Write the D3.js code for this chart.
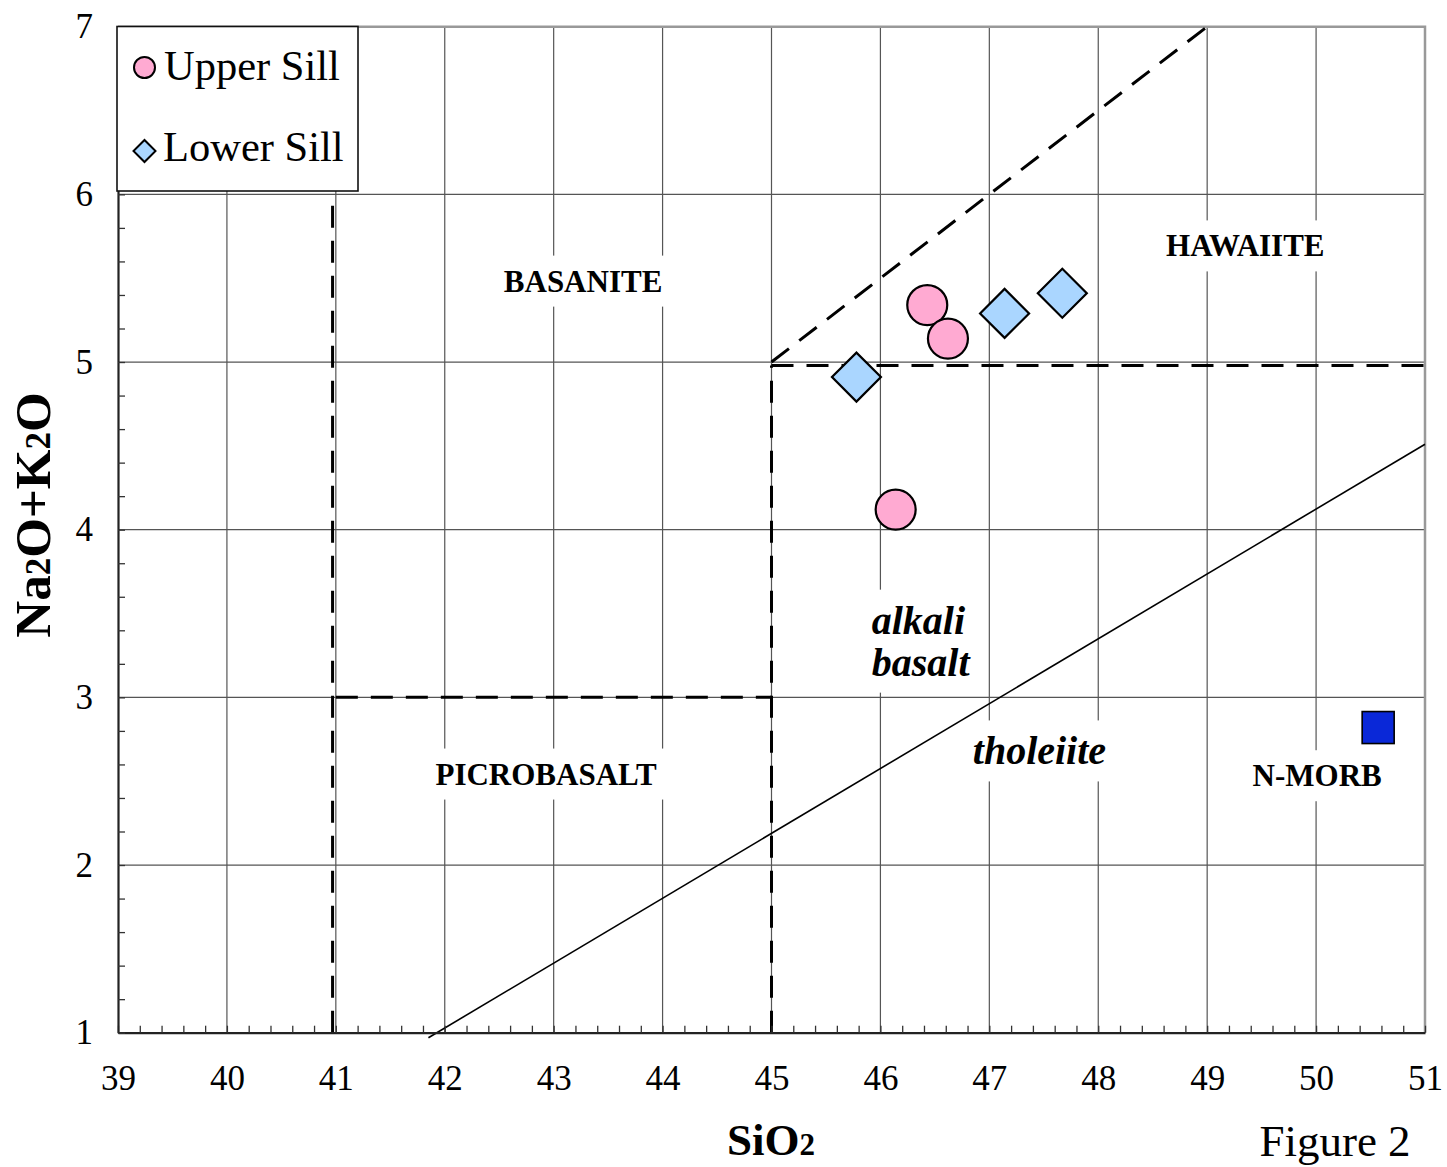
<!DOCTYPE html>
<html>
<head>
<meta charset="utf-8">
<script src="https://cdn.jsdelivr.net/npm/d3@7"></script>
<style>
  html, body { margin: 0; padding: 0; background: #fff; }
  svg { display: block; }
  text { font-family: "Liberation Serif", "Times New Roman", Times, serif; fill: #000; }
</style>
</head>
<body>
<svg id="chart" width="1447" height="1167"></svg>
<script>
// Total alkali vs silica: basalt fields
const xTicks = [39, 40, 41, 42, 43, 44, 45, 46, 47, 48, 49, 50, 51];
const yTicks = [1, 2, 3, 4, 5, 6, 7];

const upperSillSiO2 = [46.43, 46.62, 46.14];
const upperSillAlk  = [5.34, 5.14, 4.12];
const lowerSillSiO2 = [45.78, 47.14, 47.67];
const lowerSillAlk  = [4.91, 5.29, 5.41];
const nmorbSiO2 = [50.57];
const nmorbAlk  = [2.82];

// field boundaries (dashed) and the alkaline / tholeiitic divide (solid)
const dashedBoundaries = [
  [[40.97, 1], [40.97, 6]],
  [[41, 3], [45, 3]],
  [[45, 1], [45, 4.98]],
  [[45, 4.98], [51, 4.98]],
  [[45, 5], [49, 7]]
];
const alkalineDivide = [[41.85, 0.97], [51, 4.51]];

const fieldNames = ["BASANITE", "PICROBASALT", "HAWAIITE", "N-MORB"];
const fieldPos = [[43.27, 5.42], [42.93, 2.48], [49.35, 5.63], [50.01, 2.47]];

const svg = d3.select("#chart");
const L = 118, R = 1425, T = 26.7, B = 1032.7;
const x = d3.scaleLinear().domain([39, 51]).range([L, R]);
const y = d3.scaleLinear().domain([1, 7]).range([B, T]);

// grid
const grid = svg.append("g").attr("stroke", "#555").attr("stroke-width", 1.2);
grid.selectAll("line.gx").data(xTicks.slice(1, -1)).join("line")
  .attr("x1", d => x(d)).attr("x2", d => x(d)).attr("y1", T).attr("y2", B);
grid.selectAll("line.gy").data(yTicks.slice(1, -1)).join("line")
  .attr("x1", L).attr("x2", R).attr("y1", d => y(d)).attr("y2", d => y(d));

// top and right frame
svg.append("path")
  .attr("d", `M${L},${T}H${R}V${B}`)
  .attr("fill", "none").attr("stroke", "#999").attr("stroke-width", 2.5);

// field labels with white backing
const labelLayer = svg.append("g");
function backed(textSel, pad) {
  const bb = textSel.node().getBBox();
  labelLayer.insert("rect", "text")
    .attr("x", bb.x - pad).attr("y", bb.y - pad)
    .attr("width", bb.width + 2 * pad).attr("height", bb.height + 2 * pad)
    .attr("fill", "#fff");
}
fieldNames.forEach((name, i) => {
  const t = labelLayer.append("text")
    .attr("x", x(fieldPos[i][0])).attr("y", y(fieldPos[i][1]))
    .attr("text-anchor", "middle")
    .attr("font-size", 31).attr("font-weight", "bold")
    .text(name);
  backed(t, 8);
});
const abX = x(45.92);
const ab = labelLayer.append("text")
  .attr("x", abX).attr("y", y(3.38))
  .attr("font-size", 40).attr("font-weight", "bold").attr("font-style", "italic");
ab.append("tspan").attr("x", abX).text("alkali");
ab.append("tspan").attr("x", abX).attr("dy", 42).text("basalt");
backed(ab, 8);
const th = labelLayer.append("text")
  .attr("x", x(47.46)).attr("y", y(2.6))
  .attr("text-anchor", "middle")
  .attr("font-size", 40).attr("font-weight", "bold").attr("font-style", "italic")
  .text("tholeiite");
backed(th, 8);

// boundaries
const line = d3.line().x(d => x(d[0])).y(d => y(d[1]));
svg.append("g").selectAll("path").data(dashedBoundaries).join("path")
  .attr("d", line).attr("fill", "none").attr("stroke", "#000")
  .attr("stroke-width", 3).attr("stroke-dasharray", "22,13");
svg.append("path").attr("d", line(alkalineDivide))
  .attr("fill", "none").attr("stroke", "#000").attr("stroke-width", 1.6);

// axes
const minor = d3.range(39, 51.001, 0.2).map(v => +v.toFixed(1));
const minorY = d3.range(1, 7.001, 0.2).map(v => +v.toFixed(1));

const xAxis = svg.append("g").attr("transform", `translate(0,${B})`)
  .call(d3.axisBottom(x).tickValues(xTicks).tickSize(0).tickPadding(32).tickFormat(d3.format("d")));
svg.append("g").attr("transform", `translate(0,${B})`)
  .call(d3.axisBottom(x).tickValues(minor).tickSizeInner(-7).tickSizeOuter(0).tickFormat(""))
  .call(g => g.select(".domain").attr("stroke", "#222").attr("stroke-width", 2.2))
  .call(g => g.selectAll(".tick line").attr("stroke", "#333").attr("stroke-width", 1.3));
xAxis.select(".domain").remove();
xAxis.selectAll("text").attr("font-size", 35).attr("fill", "#000")
  .attr("font-family", "'Liberation Serif', 'Times New Roman', serif");

const yAxis = svg.append("g").attr("transform", `translate(${L},0)`)
  .call(d3.axisLeft(y).tickValues(yTicks).tickSize(0).tickPadding(25).tickFormat(d3.format("d")));
svg.append("g").attr("transform", `translate(${L},0)`)
  .call(d3.axisLeft(y).tickValues(minorY).tickSizeInner(-7).tickSizeOuter(0).tickFormat(""))
  .call(g => g.select(".domain").attr("stroke", "#222").attr("stroke-width", 2.2))
  .call(g => g.selectAll(".tick line").attr("stroke", "#333").attr("stroke-width", 1.3));
yAxis.select(".domain").remove();
yAxis.selectAll("text").attr("font-size", 35).attr("fill", "#000")
  .attr("font-family", "'Liberation Serif', 'Times New Roman', serif");

// samples
const upper = d3.zip(upperSillSiO2, upperSillAlk);
const lower = d3.zip(lowerSillSiO2, lowerSillAlk);
const morb = d3.zip(nmorbSiO2, nmorbAlk);

svg.append("g").selectAll("circle").data(upper).join("circle")
  .attr("cx", d => x(d[0])).attr("cy", d => y(d[1])).attr("r", 20)
  .attr("fill", "#ffaad2").attr("stroke", "#000").attr("stroke-width", 2.2);
const diamond = d3.symbol().type(d3.symbolSquare).size(2 * 24.5 * 24.5);
svg.append("g").selectAll("path").data(lower).join("path")
  .attr("d", diamond)
  .attr("transform", d => `translate(${x(d[0])},${y(d[1])}) rotate(45)`)
  .attr("fill", "#aad6ff").attr("stroke", "#000").attr("stroke-width", 2.2);
svg.append("g").selectAll("rect").data(morb).join("rect")
  .attr("x", d => x(d[0]) - 16).attr("y", d => y(d[1]) - 16)
  .attr("width", 32).attr("height", 32)
  .attr("fill", "#0a28d8").attr("stroke", "#000").attr("stroke-width", 1.6);

// legend
const lg = svg.append("g");
lg.append("rect").attr("x", 117).attr("y", 26.5).attr("width", 241).attr("height", 164.5)
  .attr("fill", "#fff").attr("stroke", "#111").attr("stroke-width", 1.6);
lg.append("circle").attr("cx", 144.5).attr("cy", 67.5).attr("r", 10.5)
  .attr("fill", "#ffaad2").attr("stroke", "#000").attr("stroke-width", 2);
lg.append("path").attr("d", d3.symbol().type(d3.symbolSquare).size(2 * 11 * 11))
  .attr("transform", "translate(144.5,151) rotate(45)")
  .attr("fill", "#aad6ff").attr("stroke", "#000").attr("stroke-width", 2);
lg.append("text").attr("x", 164).attr("y", 80).attr("font-size", 42.5).text("Upper Sill");
lg.append("text").attr("x", 163).attr("y", 161).attr("font-size", 42.5).text("Lower Sill");

// axis titles
const xt = svg.append("text").attr("x", 771).attr("y", 1155)
  .attr("text-anchor", "middle").attr("font-size", 45).attr("font-weight", "bold");
xt.append("tspan").text("SiO");
xt.append("tspan").attr("font-size", 31).text("2");

const yt = svg.append("text")
  .attr("transform", "translate(50,515) rotate(-90)")
  .attr("text-anchor", "middle").attr("font-size", 51).attr("font-weight", "bold");
yt.append("tspan").text("Na");
yt.append("tspan").attr("font-size", 35).text("2");
yt.append("tspan").text("O+K");
yt.append("tspan").attr("font-size", 35).text("2");
yt.append("tspan").text("O");

svg.append("text").attr("x", 1335).attr("y", 1156)
  .attr("text-anchor", "middle").attr("font-size", 45).text("Figure 2");
</script>
</body>
</html>
